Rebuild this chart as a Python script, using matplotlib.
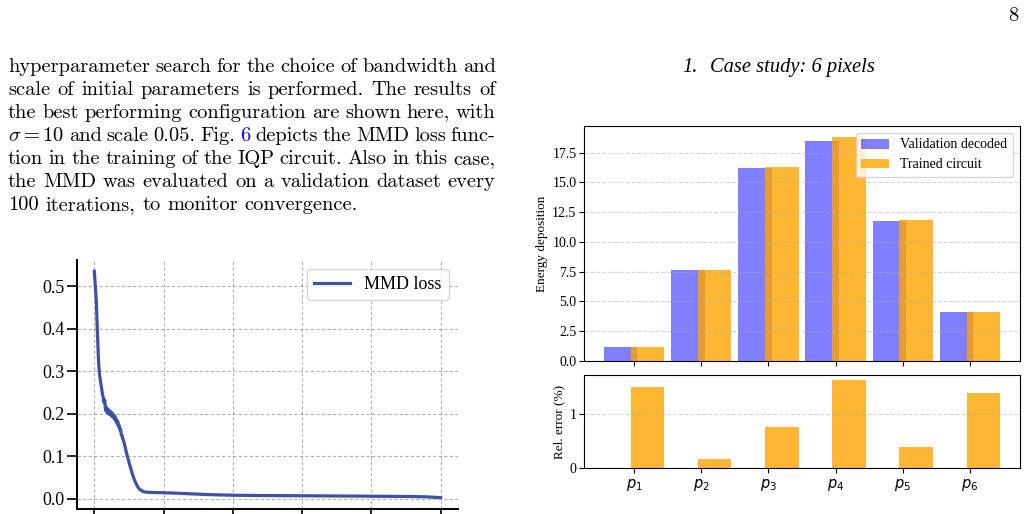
import numpy as np
import matplotlib
matplotlib.use("Agg")
import matplotlib.pyplot as plt

# ------------------------------------------------------------------
# Teks halaman
body_lines = [
    "hyperparameter search for the choice of bandwidth and",
    "scale of initial parameters is performed.  The results of",
    "the best performing configuration are shown here, with",
    r"$\sigma=10$ and scale 0.05. Fig. 6 depicts the MMD loss func-",
    "tion in the training of the IQP circuit. Also in this case,",
    "the MMD was evaluated on a validation dataset every",
    "100 iterations, to monitor convergence.",
]
heading_num = "1."
heading = "Case study: 6 pixels"
page_number = "8"

# ------------------------------------------------------------------
# Kurva MMD loss
loss_iter = [0, 15, 30, 45, 60, 75, 90, 105, 120, 130, 140, 150, 160, 170,
             180, 190, 200, 210, 220, 230, 240, 250, 260, 270, 280, 290, 300,
             310, 320, 330, 340, 350, 360, 370, 380, 390, 400, 410, 420, 435,
             450, 470, 490, 510, 530, 550, 570, 590, 610, 630, 650, 670, 690,
             710, 740, 770, 800, 850, 900, 1000, 1100, 1200, 1300, 1400, 1500,
             1600, 1700, 1800, 1900, 2000, 2200, 2400, 2600, 2800, 3000, 3200,
             3400, 3600, 3800, 4000, 4200, 4400, 4600, 4800, 4900, 5000]
loss_val = [0.535, 0.50, 0.46, 0.39, 0.325, 0.293, 0.275, 0.26, 0.243,
            0.238, 0.226, 0.232, 0.212, 0.206, 0.214, 0.202, 0.210, 0.199,
            0.207, 0.198, 0.204, 0.194, 0.201, 0.192, 0.197, 0.187, 0.193,
            0.183, 0.186, 0.176, 0.181, 0.170, 0.172, 0.161, 0.163, 0.150,
            0.149, 0.141, 0.138, 0.128, 0.118, 0.104, 0.092, 0.080, 0.069,
            0.058, 0.048, 0.040, 0.033, 0.027, 0.023, 0.020, 0.018, 0.0165,
            0.0155, 0.015, 0.0148, 0.0145, 0.0142, 0.0138, 0.0133, 0.0128,
            0.012, 0.0112, 0.0105, 0.0098, 0.0092, 0.0088, 0.0083, 0.008,
            0.0076, 0.0073, 0.0071, 0.0069, 0.0067, 0.0065, 0.0063, 0.0061,
            0.0059, 0.0056, 0.0054, 0.0052, 0.0049, 0.0042, 0.0032, 0.0022]
loss_yticks = [0.0, 0.1, 0.2, 0.3, 0.4, 0.5]
loss_xticks = [0, 1000, 2000, 3000, 4000, 5000]

# ------------------------------------------------------------------
# Case study 6 pixel
pixels = [r"$p_1$", r"$p_2$", r"$p_3$", r"$p_4$", r"$p_5$", r"$p_6$"]
decoded = [1.16, 7.61, 16.17, 18.46, 11.76, 4.13]
trained = [1.16, 7.61, 16.26, 18.80, 11.85, 4.13]
rel_err = [1.51, 0.17, 0.765, 1.64, 0.395, 1.40]
energy_yticks = [0.0, 2.5, 5.0, 7.5, 10.0, 12.5, 15.0, 17.5]
err_yticks = [0, 1]

plt.rcParams["font.family"] = ["Liberation Serif", "DejaVu Serif"]

W, H = 1029, 514
fig = plt.figure(figsize=(W / 100, H / 100), dpi=100)

# ------------------------------------------------------------------
# Lapisan halaman untuk teks
page = fig.add_axes([0, 0, 1, 1])
page.set_xlim(0, W)
page.set_ylim(H, 0)
page.axis("off")

renderer = fig.canvas.get_renderer()
body_size = 14.7
x_left, x_right = 8, 495.5
base0, step = 72, 23
space_w = 0.333 * body_size * 100 / 72

for i, line in enumerate(body_lines):
    y = base0 + i * step
    words = line.split()
    items = []
    for w in words:
        color = "blue" if w == "6" else "black"
        t = page.text(0, y, w, family="cmr10", math_fontfamily="cm",
                      size=body_size, color=color, va="baseline", ha="left")
        items.append((t, t.get_window_extent(renderer).width))
    total = sum(wd for _, wd in items)
    if i < len(body_lines) - 1:
        gap = (x_right - x_left - total) / (len(items) - 1)
    else:
        gap = space_w
    x = x_left
    for t, wd in items:
        t.set_x(x)
        x += wd + gap

page.text(682, 72, heading_num, size=14.8, style="italic",
          va="baseline", ha="left")
page.text(710, 72, heading, size=14.8, style="italic",
          va="baseline", ha="left")
page.text(1018, 21, page_number, family="cmr10", size=body_size,
          va="baseline", ha="right")

# ------------------------------------------------------------------
# Grafik kiri: MMD loss
ax1 = fig.add_axes([77 / W, 5 / H, 381 / W, 249 / H])
ax1.plot(loss_iter, loss_val, color="#3f51a5", lw=2.3, label="MMD loss")
ax1.set_yticks(loss_yticks)
ax1.set_xticks(loss_xticks)
ax1.tick_params(labelbottom=False, labelsize=13, length=7.5, width=1.2, pad=1.5)
ax1.spines["top"].set_visible(False)
ax1.spines["right"].set_visible(False)
for s in ["left", "bottom"]:
    ax1.spines[s].set_linewidth(1.4)
ax1.grid(True, linestyle=(0, (3, 2)), color="gray", alpha=0.6, lw=0.8)
ax1.legend(loc="upper right", fontsize=13)

# ------------------------------------------------------------------
# Grafik kanan atas: energy deposition
x = np.arange(len(pixels))
ax2 = fig.add_axes([584 / W, (H - 360.7) / H, 436 / W, 234.7 / H])
ax2.bar(x - 0.2, decoded, width=0.5, color="blue", alpha=0.5,
        label="Validation decoded")
ax2.bar(x + 0.2, trained, width=0.5, color="orange", alpha=0.8,
        label="Trained circuit")
ax2.set_yticks(energy_yticks)
ax2.set_ylabel("Energy deposition", fontsize=9.5, labelpad=3)
ax2.grid(axis="y", linestyle="--", alpha=0.5)
ax2.legend(loc="upper right", fontsize=10)

# Grafik kanan bawah: relative error
ax3 = fig.add_axes([584 / W, (H - 468.3) / H, 436 / W, 93 / H], sharex=ax2)
ax3.bar(x + 0.2, rel_err, width=0.5, color="orange", alpha=0.8)
ax3.set_yticks(err_yticks)
ax3.set_ylabel("Rel. error (%)", fontsize=9.5, labelpad=3)
ax3.grid(axis="y", linestyle="--", alpha=0.5)
ax3.set_xticks(x)
ax3.set_xticklabels(pixels, fontsize=10.5)

ax2.tick_params(labelbottom=False, labelsize=10, length=3.5, pad=2)
ax3.tick_params(axis="y", labelsize=10, length=3.5, pad=2)
ax3.tick_params(axis="x", length=3.5, pad=3)

fig.savefig("out.png", dpi=100)
